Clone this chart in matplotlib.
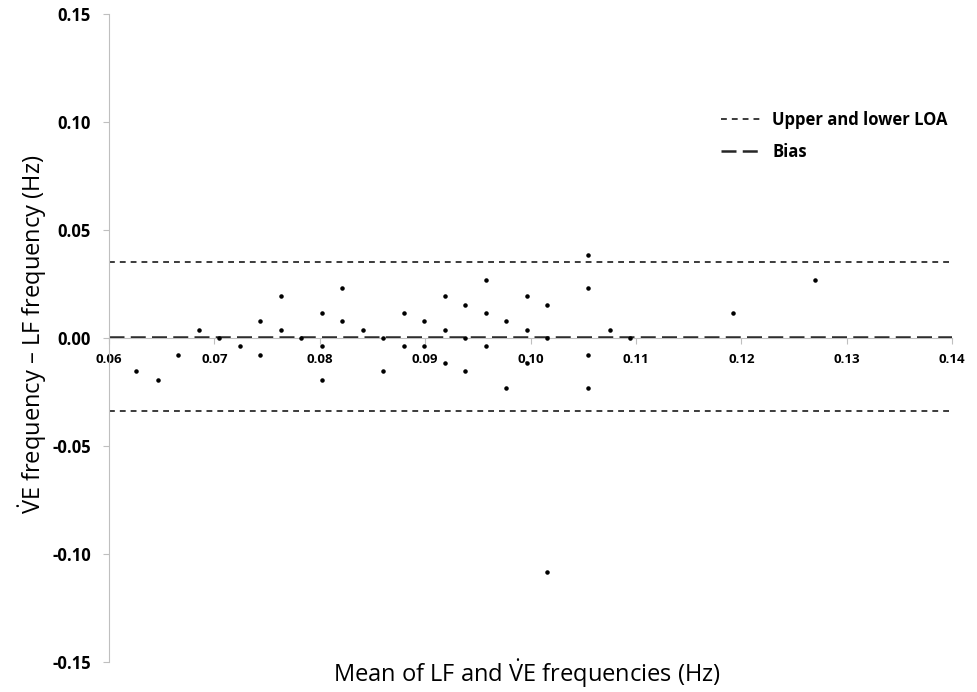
import matplotlib
matplotlib.use("Agg")
import matplotlib.pyplot as plt
from matplotlib.lines import Line2D

plt.rcParams["font.family"] = ["Open Sans", "DejaVu Sans"]
plt.rcParams["mathtext.fontset"] = "custom"
plt.rcParams["mathtext.rm"] = "Open Sans"
plt.rcParams["mathtext.it"] = "Open Sans"

# Bland-Altman data: mean of LF and VE frequencies vs difference (Hz)
mean_freq = [
    0.0626, 0.0646, 0.0665, 0.0685, 0.0704, 0.0724, 0.0743, 0.0743,
    0.0763, 0.0763, 0.0782, 0.0802, 0.0802, 0.0802, 0.0821, 0.0821,
    0.0841, 0.0860, 0.0860, 0.0880, 0.0880, 0.0899, 0.0899, 0.0919,
    0.0919, 0.0919, 0.0938, 0.0938, 0.0938, 0.0958, 0.0958, 0.0958,
    0.0977, 0.0977, 0.0997, 0.0997, 0.0997, 0.1016, 0.1016, 0.1055,
    0.1055, 0.1055, 0.1055, 0.1075, 0.1094, 0.1192, 0.1270, 0.1016,
]
diff_freq = [
    -0.0154, -0.0193, -0.0077, 0.0039, 0.0000, -0.0039, 0.0077, -0.0077,
    0.0193, 0.0039, 0.0000, 0.0116, -0.0039, -0.0193, 0.0232, 0.0077,
    0.0039, 0.0000, -0.0154, 0.0116, -0.0039, 0.0077, -0.0039, 0.0193,
    0.0039, -0.0116, 0.0154, 0.0000, -0.0154, 0.0270, 0.0116, -0.0039,
    0.0077, -0.0232, 0.0193, 0.0039, -0.0116, 0.0154, 0.0000, 0.0386,
    0.0232, -0.0077, -0.0232, 0.0039, 0.0000, 0.0116, 0.0270, -0.1085,
]

bias = 0.0006
upper_loa = 0.0351
lower_loa = -0.0336

x_ticks = [0.06, 0.07, 0.08, 0.09, 0.10, 0.11, 0.12, 0.13, 0.14]
y_ticks = [-0.15, -0.10, -0.05, 0.00, 0.05, 0.10, 0.15]

LOA_STYLE = dict(color="#1a1a1a", lw=1.2, dashes=(3.5, 3))
BIAS_STYLE = dict(color="#262626", lw=1.8, dashes=(6, 2.5))

fig = plt.figure(figsize=(9.78, 6.92), dpi=100)
ax = fig.add_axes([0.1115, 0.0434, 0.8619, 0.9364])

# x axis crosses at zero (set before tick labels, it resets the ticks)
for side in ["top", "right"]:
    ax.spines[side].set_visible(False)
ax.spines["bottom"].set_position(("data", 0))
ax.spines["left"].set_color("#bfbfbf")
ax.spines["bottom"].set_color("#bfbfbf")

ax.scatter(mean_freq, diff_freq, s=5, color="black", zorder=3)

# limits of agreement and bias
ax.axhline(upper_loa, **LOA_STYLE)
ax.axhline(lower_loa, **LOA_STYLE)
ax.axhline(bias, **BIAS_STYLE)

ax.set_xlim(0.06, 0.14)
ax.set_ylim(-0.15, 0.15)
ax.set_xticks(x_ticks)
ax.set_yticks(y_ticks)
ax.set_xticklabels([f"{v:.2f}" for v in x_ticks], fontsize=9.5, fontweight="bold")
ax.set_yticklabels([f"{v:.2f}" for v in y_ticks], fontsize=12, fontweight="bold")
ax.tick_params(axis="x", colors="#bfbfbf", labelcolor="black", length=4, pad=7)
ax.tick_params(axis="y", colors="#bfbfbf", labelcolor="black", length=4.5, pad=8.5)

fig.text(0.033, 0.517, "$\\dot{\\mathrm{V}}$E frequency \u2013 LF frequency (Hz)",
         rotation=90, ha="center", va="center", fontsize=17)
fig.text(0.539, 0.026, r"Mean of LF and $\dot{\mathrm{V}}$E frequencies (Hz)",
         ha="center", va="center", fontsize=17)

handles = [Line2D([], [], **LOA_STYLE), Line2D([], [], **BIAS_STYLE)]
ax.legend(handles, ["Upper and lower LOA", "Bias"], loc="upper left",
          bbox_to_anchor=(0.722, 0.861), bbox_transform=fig.transFigure,
          frameon=False, handlelength=2.4, handletextpad=0.66, labelspacing=0.8,
          prop={"weight": "bold", "size": 12})

fig.savefig("out.png", dpi=100)
